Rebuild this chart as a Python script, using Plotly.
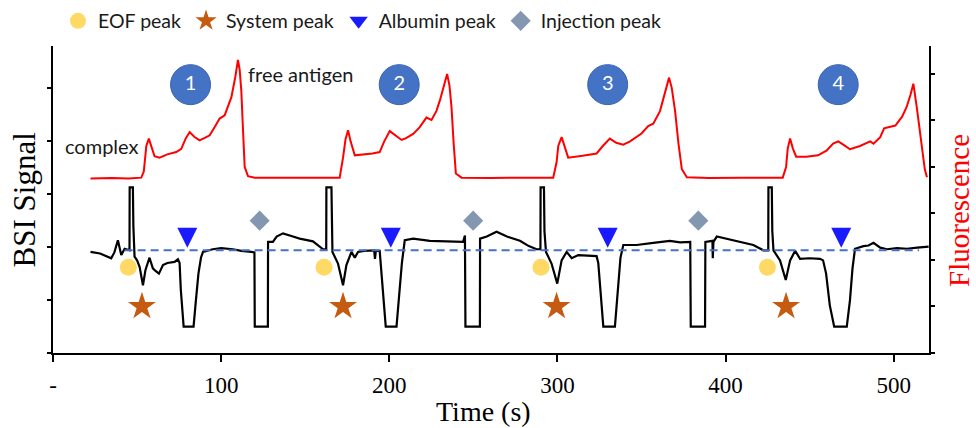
import plotly.graph_objects as go

# ---------------- data ----------------
# BSI signal (black trace, left axis units)
bsi_time = [22.3, 28, 34.6, 36.5, 38.6, 40.6, 42.6, 44.5, 45.5, 45.6, 47.5, 47.8, 48.5, 50, 51.5, 53.5, 55, 57.4,
            59.4, 61, 63, 65.4, 68, 72.3, 74.3, 75.3, 76, 77.7, 83.6, 85, 86.5, 88, 89.2, 95, 100, 107, 112, 118,
            119.8, 120, 127.8, 127.9, 130.8, 133, 136.8, 142.7, 146.7, 154.6, 158, 160.6, 162.5, 162.6, 165.6,
            165.8, 166.2, 169.5, 172.5, 174.5, 177.5, 179.5, 181.4, 185, 191, 191.5, 192, 194.3, 196, 197.9,
            204.3, 206, 207.5, 209.2, 214.2, 224.1, 235, 243.9, 245, 245.3, 253.9, 254, 258, 263.8, 270, 277.7,
            283, 287.6, 289.9, 290, 292, 292.3, 293.2, 296.5, 299.9, 302.5, 305.5, 308.5, 312.4, 318, 323.3,
            324.3, 326, 327.3, 334.2, 336, 337.5, 339.2, 347.1, 357, 366.9, 373, 379, 379.3, 387.8, 388, 391,
            392.2, 392.4, 392.8, 394.8, 400, 404.6, 410, 416.5, 422.5, 425.4, 425.5, 427.5, 427.8, 428.5, 432.4,
            435.8, 438.4, 441.4, 444.3, 450, 456.2, 458, 459.8, 462, 464.6, 472.1, 474, 475.5, 477, 482, 485,
            488, 492, 496, 502, 507.9, 514, 520.8]
bsi_signal = [1.91, 1.88, 1.79, 1.90, 2.13, 1.85, 1.97, 1.94, 1.94, 3.13, 3.13, 2.40, 1.82, 1.75, 1.63, 1.28, 1.57,
              1.80, 1.60, 1.55, 1.50, 1.66, 1.70, 1.72, 1.77, 1.70, 1.20, 0.50, 0.50, 1.00, 1.50, 1.80, 1.91, 1.96,
              1.98, 1.96, 1.93, 1.91, 1.90, 0.50, 0.50, 2.10, 2.10, 2.20, 2.26, 2.20, 2.16, 2.11, 2.03, 1.96, 1.96,
              3.13, 3.13, 2.20, 1.91, 1.69, 1.28, 1.66, 1.91, 1.80, 1.91, 1.93, 1.94, 1.78, 1.93, 1.93, 1.20, 0.50,
              0.50, 1.10, 1.70, 2.13, 2.16, 2.12, 2.11, 2.10, 2.22, 0.50, 0.50, 2.16, 2.20, 2.29, 2.20, 2.12, 2.02,
              1.96, 1.96, 3.13, 3.13, 2.30, 1.91, 1.69, 1.31, 1.75, 1.91, 1.79, 1.85, 1.84, 1.83, 1.70, 1.00, 0.50,
              0.50, 1.20, 1.80, 2.04, 2.04, 2.08, 2.12, 2.09, 2.10, 0.50, 0.50, 2.10, 2.12, 2.12, 1.79, 2.10, 2.20,
              2.16, 2.13, 2.09, 2.04, 1.94, 1.94, 3.13, 3.13, 2.30, 1.94, 1.75, 1.38, 1.75, 1.93, 1.78, 1.79, 1.78,
              1.75, 1.50, 0.90, 0.50, 0.50, 1.00, 1.60, 1.97, 2.02, 2.03, 2.08, 1.99, 1.96, 1.98, 1.97, 1.99, 2.01]

# Fluorescence (red trace, right axis units)
fl_time = [22.3, 35, 45, 52.5, 54, 55.5, 57, 58.5, 60.4, 63.4, 68, 73.3, 76.3, 79, 81.3, 84, 87.2, 90, 93.2, 96,
           99.1, 102.1, 104, 106.1, 108.5, 110, 111, 112, 113, 114, 116, 120, 140, 160, 170.5,
           172.5, 174, 175.5, 177, 179.5, 185, 190, 194.3, 197, 200.3, 203, 207.3, 210, 214.2, 218, 222.1, 225.1,
           228, 230.1, 232.5, 234.4, 235.8, 237, 238.3, 239.6, 243, 260, 280, 297.5,
           299.5, 300.5, 302.5, 304, 306.4, 315, 323.3, 327, 331.2, 335, 339.2, 343.2, 346, 350, 354, 357, 361,
           364, 366.4, 368, 370, 372, 374, 377, 390, 410, 434,
           436, 437, 438.4, 440, 442, 448, 455, 460, 464, 467, 470, 474, 480, 486, 488, 492, 494.3, 498, 501,
           505, 507.7, 510, 511.7, 513.7, 515.3, 516.8, 518.5, 519.8]
fl_signal = [3.75, 3.76, 3.75, 3.77, 3.90, 4.45, 4.61, 4.45, 4.23, 4.20, 4.27, 4.32, 4.39, 4.62, 4.75, 4.65, 4.57,
             4.62, 4.68, 4.85, 5.04, 5.11, 5.30, 5.50, 5.95, 6.30, 6.10, 5.64, 4.80, 4.00, 3.80, 3.77, 3.77, 3.76,
             3.77,
             4.20, 4.60, 4.79, 4.55, 4.25, 4.27, 4.29, 4.32, 4.55, 4.77, 4.70, 4.58, 4.62, 4.71, 4.85, 5.06, 5.01,
             5.20, 5.43, 5.75, 6.00, 5.75, 5.29, 4.50, 3.86, 3.77, 3.76, 3.77, 3.77,
             4.10, 4.45, 4.64, 4.45, 4.20, 4.24, 4.29, 4.45, 4.61, 4.52, 4.48, 4.55, 4.62, 4.72, 4.88, 4.93, 5.20,
             5.60, 5.92, 5.70, 5.20, 4.50, 3.95, 3.78, 3.76, 3.77, 3.77,
             4.00, 4.40, 4.61, 4.40, 4.22, 4.22, 4.25, 4.35, 4.50, 4.55, 4.48, 4.38, 4.45, 4.55, 4.50, 4.64, 4.83,
             4.86, 4.89, 5.08, 5.29, 5.55, 5.79, 5.29, 4.80, 4.36, 3.95, 3.78]

baseline_time = [42.6, 515.0]
baseline_level = [1.94, 1.94]

eof_time = [44.8, 161.2, 290.2, 424.9]
eof_level = [1.62, 1.62, 1.62, 1.62]
system_time = [52.9, 172.5, 299.5, 436.0]
system_level = [0.88, 0.88, 0.88, 0.88]
albumin_time = [79.9, 200.9, 329.9, 468.8]
albumin_level = [1.99, 1.99, 1.99, 1.99]
injection_time = [122.9, 249.9, 383.8]
injection_level = [2.50, 2.50, 2.50]

cycle_labels = ["1", "2", "3", "4"]
cycle_time = [81.8, 205.9, 329.9, 467.0]
cycle_level = [5.07, 5.07, 5.07, 5.07]

x_tickvals = [0, 100, 200, 300, 400, 500]
x_ticktext = ["-", "100", "200", "300", "400", "500"]

# ---------------- figure ----------------
SANS = "Lato, 'Open Sans', sans-serif"
SERIF = "'Liberation Serif', 'Times New Roman', serif"

fig = go.Figure()

fig.add_trace(go.Scatter(x=fl_time, y=fl_signal, yaxis="y2", mode="lines",
                         line=dict(color="#FF0000", width=2), showlegend=False, hoverinfo="skip"))
fig.add_trace(go.Scatter(x=bsi_time, y=bsi_signal, mode="lines",
                         line=dict(color="#000000", width=2.2), showlegend=False, hoverinfo="skip"))
fig.add_trace(go.Scatter(x=baseline_time, y=baseline_level, mode="lines",
                         line=dict(color="#4472C4", width=2, dash="8px,5px"), showlegend=False, hoverinfo="skip"))

fig.add_trace(go.Scatter(x=eof_time, y=eof_level, mode="markers", name="EOF peak",
                         marker=dict(symbol="circle", size=17, color="#FFD966")))
fig.add_trace(go.Scatter(x=system_time, y=system_level, mode="markers", name="System peak",
                         marker=dict(symbol="star", size=21, color="#C55A11")))
fig.add_trace(go.Scatter(x=albumin_time, y=albumin_level, mode="markers", name="Albumin peak",
                         legendgroup="alb", showlegend=False,
                         marker=dict(symbol="arrow-down", size=20, color="#1A1AFF")))
fig.add_trace(go.Scatter(x=[None], y=[None], mode="markers", name="Albumin peak", legendgroup="alb",
                         marker=dict(symbol="triangle-down", size=16, color="#1A1AFF")))
fig.add_trace(go.Scatter(x=injection_time, y=injection_level, mode="markers", name="Injection peak",
                         marker=dict(symbol="diamond", size=15.5, color="#8497B0")))

fig.add_trace(go.Scatter(x=cycle_time, y=cycle_level, mode="markers+text", text=cycle_labels,
                         textposition="middle center", showlegend=False, hoverinfo="skip",
                         textfont=dict(family=SANS, size=20, color="white"),
                         marker=dict(size=40, color="#4472C4", line=dict(color="#3A64B0", width=1))))

fig.update_layout(
    width=976, height=428,
    margin=dict(l=53, r=47, t=46, b=75, autoexpand=False),
    plot_bgcolor="white", paper_bgcolor="white",
    font=dict(family=SANS, size=19, color="#1a1a1a"),
    showlegend=True,
    legend=dict(orientation="h", x=0.0057, xanchor="left", y=1.081, yanchor="middle",
                font=dict(family=SANS, size=19.5, color="#1a1a1a"), bgcolor="rgba(0,0,0,0)",
                itemsizing="trace", traceorder="normal"),
    xaxis=dict(range=[0, 521], tickvals=x_tickvals, ticktext=x_ticktext, showline=True,
               linecolor="black", linewidth=2, ticks="outside", ticklen=7, tickwidth=1.5,
               tickcolor="black", showgrid=False, zeroline=False,
               tickfont=dict(family=SERIF, size=23, color="black"), ticklabelstandoff=3),
    yaxis=dict(range=[0, 5.8], dtick=1, tick0=0, showticklabels=False, showline=True,
               linecolor="black", linewidth=2, ticks="outside", ticklen=4, tickwidth=1.5,
               tickcolor="black", showgrid=False, zeroline=False),
    yaxis2=dict(range=[0, 6.6], dtick=1, tick0=0, overlaying="y", side="right", showticklabels=False,
                showline=True, linecolor="black", linewidth=2, ticks="outside", ticklen=4, tickwidth=1.5,
                tickcolor="black", showgrid=False, zeroline=False),
    annotations=[
        dict(text="complex", x=52.5, y=3.92, xref="x", yref="y", xanchor="right", yanchor="middle",
             showarrow=False, font=dict(family=SANS, size=20, color="#1a1a1a")),
        dict(text="free antigen", x=115, y=5.28, xref="x", yref="y", xanchor="left", yanchor="middle",
             showarrow=False, font=dict(family=SANS, size=20, color="#1a1a1a")),
        dict(text="Time (s)", x=0.491, y=-0.19, xref="paper", yref="paper", xanchor="center",
             yanchor="middle", showarrow=False, font=dict(family=SERIF, size=28, color="black")),
        dict(text="BSI Signal", x=-0.032, y=0.5, xref="paper", yref="paper", xanchor="center",
             yanchor="middle", textangle=-90, showarrow=False,
             font=dict(family=SERIF, size=31, color="black")),
        dict(text="Fluorescence", x=1.0342, y=0.466, xref="paper", yref="paper", xanchor="center",
             yanchor="middle", textangle=-90, showarrow=False,
             font=dict(family=SERIF, size=29, color="#FF0000")),
    ],
)

fig.write_html("out.html", config={"displayModeBar": False},
               post_script="document.body.style.margin='0';document.body.style.padding='0';")
